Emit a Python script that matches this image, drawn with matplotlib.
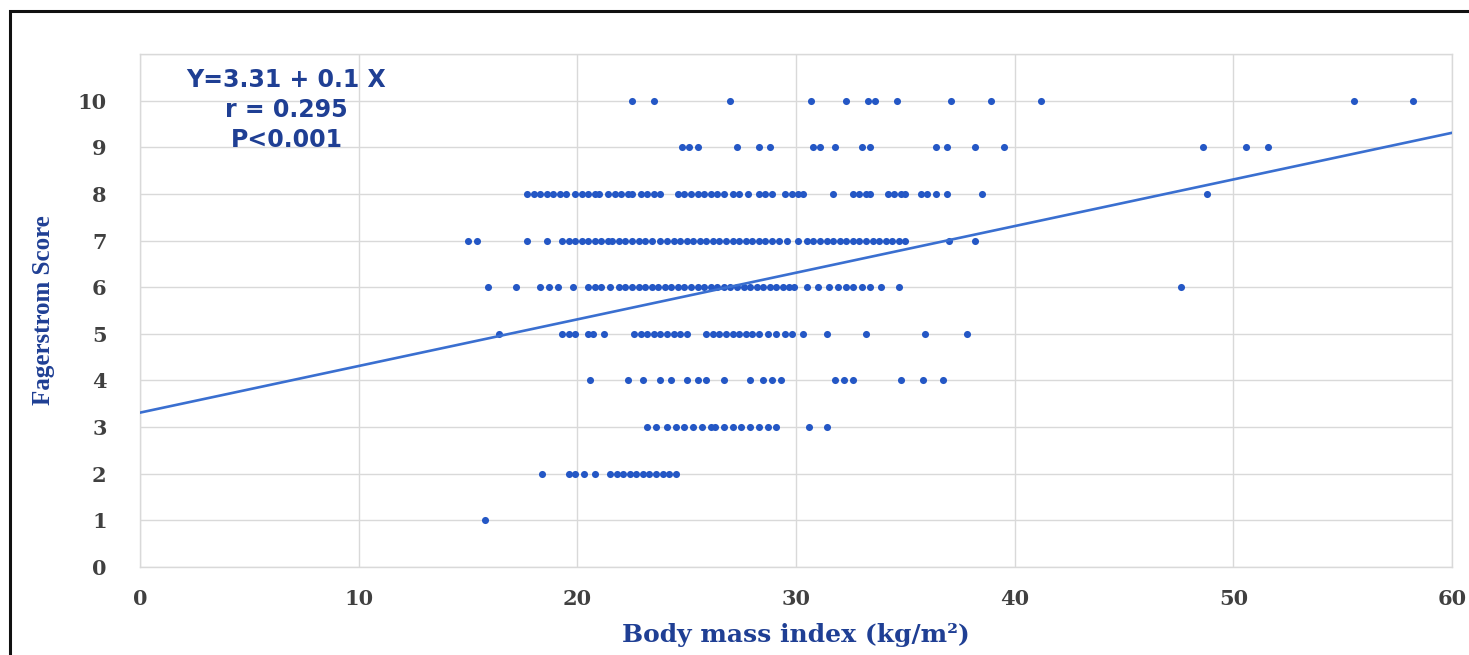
import matplotlib
matplotlib.use("Agg")
import matplotlib.pyplot as plt
from matplotlib.patches import Rectangle

# ---- data (BMI values per Fagerstrom score) ----
bmi_score10 = [22.5, 23.5, 27.0, 30.7, 32.3, 33.3, 33.6, 34.6, 37.1, 38.9, 41.2, 55.5, 58.2]
bmi_score9 = [24.8, 25.1, 25.5, 27.3, 28.3, 28.8, 30.8, 31.1, 31.8, 33.0, 33.4, 36.4, 36.9,
              38.2, 39.5, 48.6, 50.6, 51.6]
bmi_score8 = [17.7, 18.0, 18.3, 18.6, 18.9, 19.2, 19.5, 19.9, 20.2, 20.5, 20.8, 21.0, 21.4,
              21.7, 22.0, 22.3, 22.5, 22.9, 23.2, 23.5, 23.8, 24.6, 24.9, 25.2, 25.5, 25.8,
              26.1, 26.4, 26.7, 27.1, 27.4, 27.8, 28.3, 28.6, 28.9, 29.5, 29.8, 30.1, 30.3,
              31.7, 32.6, 32.9, 33.2, 33.4, 34.2, 34.5, 34.8, 35.0, 35.7, 36.0, 36.4, 36.9,
              38.5, 48.8]
bmi_score7 = [15.0, 15.4, 17.7, 18.6, 19.3, 19.6, 19.9, 20.2, 20.5, 20.8, 21.1, 21.4, 21.6,
              21.9, 22.2, 22.5, 22.8, 23.1, 23.4, 23.8, 24.1, 24.4, 24.7, 25.0, 25.3, 25.6,
              25.9, 26.2, 26.5, 26.8, 27.1, 27.4, 27.7, 28.0, 28.3, 28.6, 28.9, 29.2, 29.6,
              30.1, 30.5, 30.8, 31.1, 31.4, 31.7, 32.0, 32.3, 32.6, 32.9, 33.2, 33.5, 33.8,
              34.1, 34.4, 34.7, 35.0, 37.0, 38.2]
bmi_score6 = [15.9, 17.2, 18.3, 18.7, 19.1, 19.8, 20.5, 20.8, 21.1, 21.5, 21.9, 22.2, 22.5,
              22.8, 23.1, 23.4, 23.7, 24.0, 24.3, 24.6, 24.9, 25.2, 25.5, 25.8, 26.1, 26.4,
              26.7, 27.0, 27.3, 27.6, 27.9, 28.2, 28.5, 28.8, 29.1, 29.4, 29.7, 29.9, 30.5,
              31.0, 31.5, 31.9, 32.3, 32.6, 33.0, 33.4, 33.9, 34.7, 47.6]
bmi_score5 = [16.4, 19.3, 19.6, 19.9, 20.5, 20.7, 21.2, 22.6, 22.9, 23.2, 23.5, 23.8, 24.1,
              24.4, 24.7, 25.0, 25.9, 26.2, 26.5, 26.8, 27.1, 27.4, 27.7, 28.0, 28.3, 28.7,
              29.1, 29.5, 29.8, 30.3, 31.4, 33.2, 35.9, 37.8]
bmi_score4 = [20.6, 22.3, 23.0, 23.8, 24.3, 25.0, 25.5, 25.9, 26.7, 27.9, 28.5, 28.9, 29.3,
              31.8, 32.2, 32.6, 34.8, 35.8, 36.7]
bmi_score3 = [23.2, 23.6, 24.1, 24.5, 24.9, 25.3, 25.7, 26.1, 26.3, 26.7, 27.1, 27.5, 27.9,
              28.3, 28.7, 29.1, 30.6, 31.4]
bmi_score2 = [18.4, 19.6, 19.9, 20.3, 20.8, 21.5, 21.8, 22.1, 22.4, 22.7, 23.0, 23.3, 23.6,
              23.9, 24.2, 24.5]
bmi_score1 = [15.8]

scores = [10, 9, 8, 7, 6, 5, 4, 3, 2, 1]
bmi_by_score = [bmi_score10, bmi_score9, bmi_score8, bmi_score7, bmi_score6,
                bmi_score5, bmi_score4, bmi_score3, bmi_score2, bmi_score1]

intercept = 3.31
slope = 0.1
x_ticks = [0, 10, 20, 30, 40, 50, 60]
y_ticks = [0, 1, 2, 3, 4, 5, 6, 7, 8, 9, 10]
annotation_lines = ["Y=3.31 + 0.1 X", "r = 0.295", "P<0.001"]

# ---- figure ----
fig = plt.figure(figsize=(14.69, 6.55), dpi=100)
ax = fig.add_axes([140 / 1469, 1 - 567 / 655, (1452 - 140) / 1469, (567 - 54) / 655])

xs, ys = [], []
for s, vals in zip(scores, bmi_by_score):
    xs.extend(vals)
    ys.extend([s] * len(vals))
ax.scatter(xs, ys, s=26, color="#2457C5", marker="o", linewidths=0, zorder=3)

lx = [0, 60]
ly = [intercept + slope * v for v in lx]
ax.plot(lx, ly, color="#3A6FD0", linewidth=1.9, zorder=4)

ax.set_xlim(0, 60)
ax.set_ylim(0, 11)
ax.set_xticks(x_ticks)
ax.set_yticks(list(range(0, 12)))
ax.set_yticklabels([str(v) for v in y_ticks] + [""])
ax.grid(True, color="#D9D9D9", linewidth=1.0)
ax.set_axisbelow(True)
for sp in ax.spines.values():
    sp.set_color("#D9D9D9")
    sp.set_linewidth(1.0)
ax.tick_params(length=0, labelsize=15, labelcolor="#404040")
for lab in ax.get_xticklabels() + ax.get_yticklabels():
    lab.set_fontfamily("DejaVu Serif")
    lab.set_fontweight("bold")
ax.tick_params(axis="y", pad=24)
ax.tick_params(axis="x", pad=16)

ax.set_xlabel("Body mass index (kg/m\u00b2)", fontsize=18, fontweight="bold",
              family="DejaVu Serif", color="#1F3F94", labelpad=10)
ax.set_ylabel("Fagerstrom Score", fontsize=18, fontweight="bold",
              family="Liberation Serif", color="#1F3F94", labelpad=16)

ys_ann = [10.45, 9.8, 9.15]
for t, yv in zip(annotation_lines, ys_ann):
    ax.text(6.7, yv, t, ha="center", va="center", fontsize=17, fontweight="bold",
            family="DejaVu Sans", color="#1F3F94", zorder=5)

# outer black frame
fig.add_artist(Rectangle((10 / 1469, -0.05), 1.1, 1 - 11 / 655 + 0.05,
                         transform=fig.transFigure, fill=False,
                         edgecolor="#111111", linewidth=2.2, clip_on=False))

fig.savefig("out.png", dpi=100)
